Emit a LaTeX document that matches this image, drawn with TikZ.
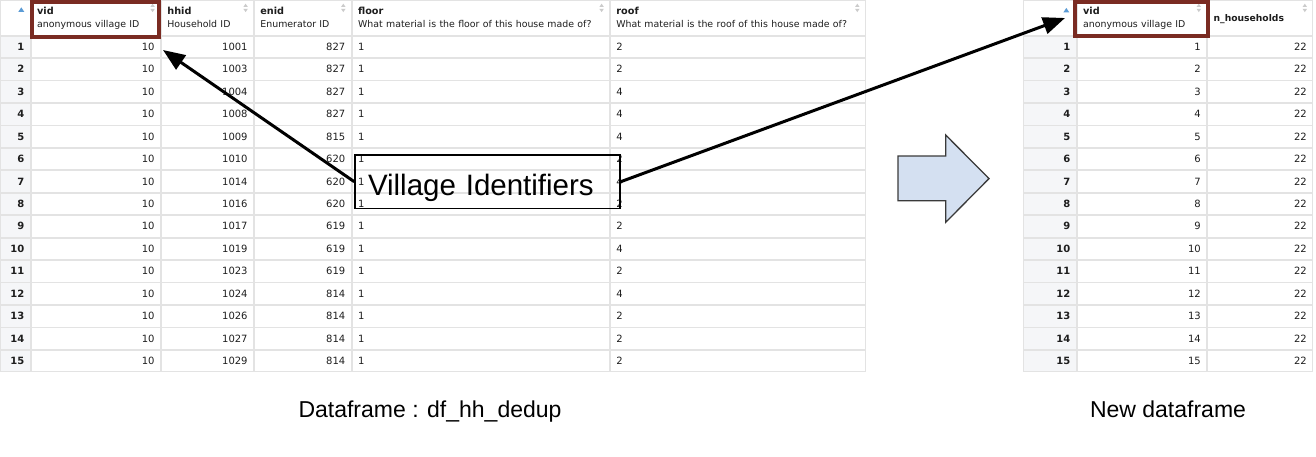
\documentclass[tikz,border=0pt]{standalone}
\usepackage{fontspec}
\setmainfont{Liberation Sans}
\newfontfamily\tabfont{DejaVu Sans}
\usetikzlibrary{
  matrix,
  arrows.meta
}

\definecolor{gridgray}{HTML}{E3E3E3}
\definecolor{rowgray}{HTML}{F5F6F8}
\definecolor{tabtext}{HTML}{1E1E1E}
\definecolor{pickred}{HTML}{7A2B22}
\definecolor{sortgray}{HTML}{CBCBCB}
\definecolor{sortblue}{HTML}{5B9BD5}
\definecolor{blockfill}{HTML}{D4E0F1}
\definecolor{blockline}{HTML}{3A3A3A}

\newcommand\cellfont{\tabfont\fontsize{10}{12}\selectfont}
\newcommand\hdr[2]{\vbox{\baselineskip=13pt
  \hbox{\bfseries\fontsize{9.7}{11}\selectfont #1}
  \hbox{\fontsize{9.4}{11}\selectfont #2}}}

\tikzset{
  sorter/.pic={
    \fill[sortgray] (-2.2,-1) -- (2.2,-1) -- (0,-4.2) -- cycle;
    \fill[sortgray] (-2.2,1) -- (2.2,1) -- (0,4.2) -- cycle;
  },
  sortup/.pic={
    \fill[sortblue] (-3,2) -- (3,2) -- (0,-2.5) -- cycle;
  }
}

\begin{document}
\begin{tikzpicture}[
  x=1pt, y=-1pt,
  datatable/.style={
    matrix of nodes,
    nodes in empty cells,
    anchor=north west,
    inner sep=0pt, outer sep=0pt,
    row sep=0pt, column sep=0pt,
    nodes={
      draw=gridgray, line width=0.8pt,
      outer sep=0pt, inner xsep=6pt, inner ysep=0pt,
      minimum height=21.65pt,
      text height=7.3pt, text depth=0pt,
      font=\cellfont, text=tabtext,
      align=right, anchor=center
    },
    column 1/.style={nodes={fill=rowgray, font=\cellfont\bfseries}},
    row 1/.style={nodes={
      fill=white, align=left,
      minimum height=34.7pt, text height=20.4pt, text depth=0pt
    }}
  },
  pickbox/.style={draw=pickred, line width=4pt},
  pointer/.style={line width=3pt, -{Triangle[length=22pt,width=17pt]}},
  idbox/.style={
    draw, line width=1.5pt,
    text width=239pt, align=left,
    inner xsep=13pt, inner ysep=0pt,
    minimum height=53.3pt,
    text height=26.6pt, text depth=0pt,
    font=\fontsize{29.5}{30}\selectfont
  },
  blockarrow/.style={fill=blockfill, draw=blockline, line width=1.3pt, line join=miter},
  caption/.style={anchor=base, font=\fontsize{23}{26}\selectfont}
]
\useasboundingbox (0,0) rectangle (1316,456);

% household table
\matrix (hh) [
  datatable,
  column 1/.append style={nodes={text width=17.9pt}},
  column 2/.style={nodes={text width=117.5pt}},
  column 3/.style={nodes={text width=80.2pt}},
  column 4/.style={nodes={text width=84.9pt}},
  column 5/.style={nodes={text width=245.5pt, align=left}},
  column 6/.style={nodes={text width=242.9pt, align=left}}
] at (0,0) {
 & \hdr{vid}{anonymous village ID} & \hdr{hhid}{Household ID} & \hdr{enid}{Enumerator ID} & \hdr{floor}{What material is the floor of this house made of?} & \hdr{roof}{What material is the roof of this house made of?} \\
1 & 10 & 1001 & 827 & 1 & 2 \\
2 & 10 & 1003 & 827 & 1 & 2 \\
3 & 10 & 1004 & 827 & 1 & 4 \\
4 & 10 & 1008 & 827 & 1 & 4 \\
5 & 10 & 1009 & 815 & 1 & 4 \\
6 & 10 & 1010 & 620 & 1 & 2 \\
7 & 10 & 1014 & 620 & 1 & 4 \\
8 & 10 & 1016 & 620 & 1 & 2 \\
9 & 10 & 1017 & 619 & 1 & 2 \\
10 & 10 & 1019 & 619 & 1 & 4 \\
11 & 10 & 1023 & 619 & 1 & 2 \\
12 & 10 & 1024 & 814 & 1 & 4 \\
13 & 10 & 1026 & 814 & 1 & 2 \\
14 & 10 & 1027 & 814 & 1 & 2 \\
15 & 10 & 1029 & 814 & 1 & 2 \\
};

% village table
\matrix (hr) [
  datatable,
  column 1/.append style={nodes={text width=41.2pt}},
  column 2/.style={nodes={text width=117.7pt}},
  column 3/.style={nodes={text width=93.2pt}}
] at (1022.7,0) {
 & \hdr{vid}{anonymous village ID} & |[text height=7pt]| {\bfseries\fontsize{9.2}{11}\selectfont n\_households} \\
1 & 1 & 22 \\
2 & 2 & 22 \\
3 & 3 & 22 \\
4 & 4 & 22 \\
5 & 5 & 22 \\
6 & 6 & 22 \\
7 & 7 & 22 \\
8 & 8 & 22 \\
9 & 9 & 22 \\
10 & 10 & 22 \\
11 & 11 & 22 \\
12 & 12 & 22 \\
13 & 13 & 22 \\
14 & 14 & 22 \\
15 & 15 & 22 \\
};

% sort marks
\foreach \c in {2,...,6}
  \pic at ([xshift=-8pt,yshift=-7.5pt]hh-1-\c.north east) {sorter};
\foreach \c in {2,3}
  \pic at ([xshift=-8pt,yshift=-7.5pt]hr-1-\c.north east) {sorter};
\pic at ([xshift=-9pt,yshift=-9.5pt]hh-1-1.north east) {sortup};
\pic at ([xshift=-10pt,yshift=-10pt]hr-1-1.north east) {sortup};

% selected columns
\draw[pickbox] ([xshift=0.5pt,yshift=-2pt]hh-1-2.north west) rectangle ([xshift=-1.5pt,yshift=-1.5pt]hh-1-2.south east);
\draw[pickbox] ([xshift=-2pt,yshift=-2pt]hr-1-2.north west) rectangle ([xshift=1.5pt,yshift=-0.5pt]hr-1-2.south east);

% label and pointers
\node[idbox] (ids) at (487.5,181.7) {Village Identifiers};
\coordinate (tipL) at (163,50);
\coordinate (tipR) at (1065,18);
\draw[pointer] (ids.west) -- (tipL);
\draw[pointer] (ids.east) -- (tipR);

% big arrow
\filldraw[blockarrow] (898,156) -- (945.7,156) -- (945.7,135) -- (989,178.6) -- (945.7,222.3) -- (945.7,200.7) -- (898,200.7) -- cycle;

\node[caption] (cap-hh) at (430,417) {Dataframe : df\_hh\_dedup};
\node[caption] (cap-new) at (1168,417) {New dataframe};

\end{tikzpicture}
\end{document}
